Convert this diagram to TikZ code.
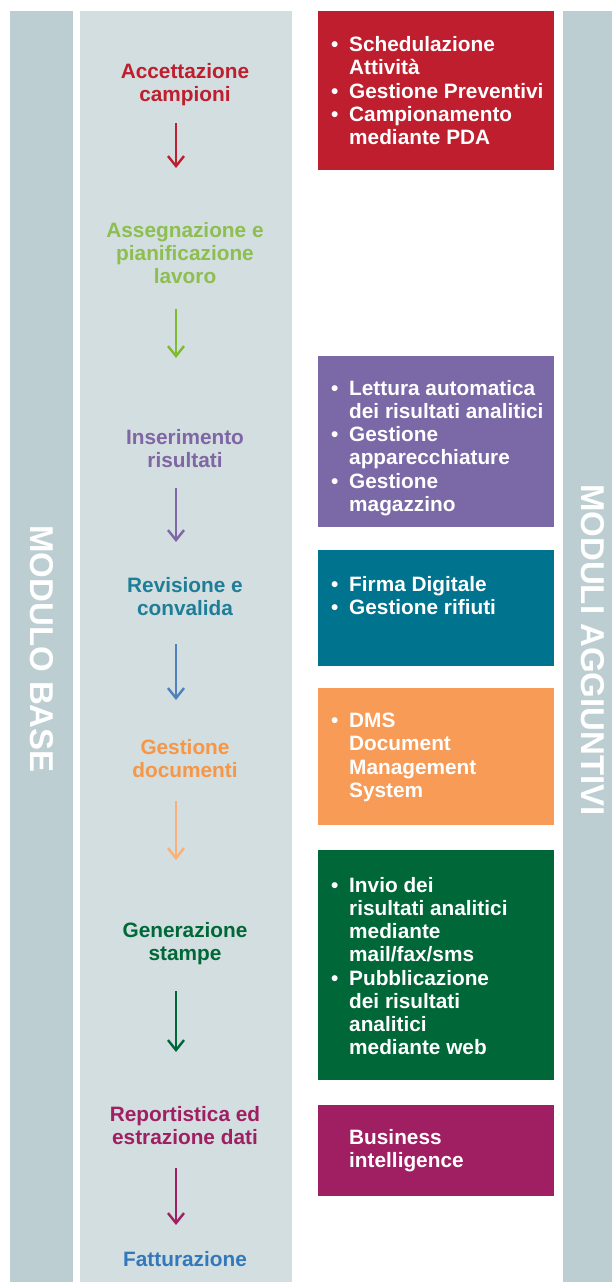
\documentclass[tikz,border=0pt]{standalone}
\usepackage{fontspec}
\setmainfont{Liberation Sans}
\usetikzlibrary{arrows.meta,positioning,calc}

\definecolor{stripcol}{RGB}{188,206,210}
\definecolor{colcol}{RGB}{210,222,224}
\definecolor{cRed}{RGB}{190,30,45}
\definecolor{cLGreen}{RGB}{141,190,79}
\definecolor{cLGreenArr}{RGB}{128,186,46}
\definecolor{cPurple}{RGB}{128,102,164}
\definecolor{cPurpleBox}{RGB}{123,104,166}
\definecolor{cTeal}{RGB}{30,126,152}
\definecolor{cTealBox}{RGB}{0,115,142}
\definecolor{cBlueArr}{RGB}{79,129,189}
\definecolor{cOrange}{RGB}{247,150,70}
\definecolor{cOrangeBox}{RGB}{247,155,87}
\definecolor{cOrangeArr}{RGB}{250,176,118}
\definecolor{cDGreen}{RGB}{0,104,56}
\definecolor{cMagenta}{RGB}{160,31,98}
\definecolor{cBlue}{RGB}{52,120,188}

\newcommand{\blt}{\makebox[18pt][l]{\textbullet}}
\newcommand{\ind}{\hspace*{18pt}}

\tikzset{
  steplabel/.style={font=\fontsize{20.8}{23.2}\selectfont\bfseries, align=center,
    anchor=north, inner sep=0pt, text depth=0pt},
  modbox/.style={anchor=north west, inner sep=0pt, minimum width=236pt, draw=none},
  modtext/.style={font=\fontsize{20.8}{23.2}\selectfont\bfseries, align=left,
    anchor=north west, inner sep=0pt, text=white},
  flow/.style={line width=2.4pt, -{Straight Barb[length=10pt,width=16pt,line width=2.4pt]}},
  sidetitle/.style={font=\fontsize{33}{36}\selectfont\bfseries, text=white, rotate=-90, inner sep=0pt},
}

\begin{document}
\begin{tikzpicture}[x=1pt,y=-1pt]
  \useasboundingbox (0,0) rectangle (612,1282);

  % background strips
  \fill[stripcol] (10,11) rectangle (73,1282);
  \fill[colcol] (80,11) rectangle (292,1282);
  \fill[stripcol] (563,11) rectangle (612,1282);

  \node[sidetitle] (base) at (42,649) {MODULO BASE};
  \node[sidetitle] (aggiuntivi) at (593,650) {MODULI AGGIUNTIVI};

  % modulo base: steps
  \node[steplabel, text=cRed] (acc) at (185,63) {Accettazione\\campioni};
  \node[steplabel, text=cLGreen] (ass) at (185,222) {Assegnazione e\\pianificazione\\lavoro};
  \node[steplabel, text=cPurple] (ins) at (185,429) {Inserimento\\risultati};
  \node[steplabel, text=cTeal] (rev) at (185,577) {Revisione e\\convalida};
  \node[steplabel, text=cOrange] (ges) at (185,739) {Gestione\\documenti};
  \node[steplabel, text=cDGreen] (gen) at (185,922) {Generazione\\stampe};
  \node[steplabel, text=cMagenta] (rep) at (185,1106) {Reportistica ed\\estrazione dati};
  \node[steplabel, text=cBlue] (fat) at (185,1251) {Fatturazione};

  \draw[flow, cRed, shorten <=21.5pt, shorten >=54pt] ([xshift=-9pt]acc.south) -- ([xshift=-9pt]ass.north);
  \draw[flow, cLGreenArr, shorten <=25.5pt, shorten >=71pt] ([xshift=-9pt]ass.south) -- ([xshift=-9pt]ins.north);
  \draw[flow, cPurple, shorten <=20.5pt, shorten >=35pt] ([xshift=-9pt]ins.south) -- ([xshift=-9pt]rev.north);
  \draw[flow, cBlueArr, shorten <=28.5pt, shorten >=39pt] ([xshift=-9pt]rev.south) -- ([xshift=-9pt]ges.north);
  \draw[flow, cOrangeArr, shorten <=23.5pt, shorten >=62pt] ([xshift=-9pt]ges.south) -- ([xshift=-9pt]gen.north);
  \draw[flow, cDGreen, shorten <=30.5pt, shorten >=54pt] ([xshift=-9pt]gen.south) -- ([xshift=-9pt]rep.north);
  \draw[flow, cMagenta, shorten <=23.5pt, shorten >=26pt] ([xshift=-9pt]rep.south) -- ([xshift=-9pt]fat.north);

  % moduli aggiuntivi
  \node[modbox, fill=cRed, minimum height=159pt] (mAcc) at (318,11) {};
  \node[modbox, fill=cPurpleBox, minimum height=171pt] (mIns) at (318,356) {};
  \node[modbox, fill=cTealBox, minimum height=116pt] (mRev) at (318,550) {};
  \node[modbox, fill=cOrangeBox, minimum height=137pt] (mGes) at (318,688) {};
  \node[modbox, fill=cDGreen, minimum height=230pt] (mGen) at (318,850) {};
  \node[modbox, fill=cMagenta, minimum height=91pt] (mRep) at (318,1105) {};

  \node[modtext] (tAcc) at ([xshift=13pt,yshift=-25.5pt]mAcc.north west)
    {\blt Schedulazione\\\ind Attività\\\blt Gestione Preventivi\\\blt Campionamento\\\ind mediante PDA};
  \node[modtext] (tIns) at ([xshift=13pt,yshift=-24pt]mIns.north west)
    {\blt Lettura automatica\\\ind dei risultati analitici\\\blt Gestione\\\ind apparecchiature\\\blt Gestione\\\ind magazzino};
  \node[modtext] (tRev) at ([xshift=13pt,yshift=-26pt]mRev.north west)
    {\blt Firma Digitale\\\blt Gestione rifiuti};
  \node[modtext] (tGes) at ([xshift=13pt,yshift=-25pt]mGes.north west)
    {\blt DMS\\\ind Document\\\ind Management\\\ind System};
  \node[modtext] (tGen) at ([xshift=13pt,yshift=-27pt]mGen.north west)
    {\blt Invio dei\\\ind risultati analitici\\\ind mediante\\\ind mail/fax/sms\\\blt Pubblicazione\\\ind dei risultati\\\ind analitici\\\ind mediante web};
  \node[modtext] (tRep) at ([xshift=13pt,yshift=-24pt]mRep.north west)
    {\ind Business\\\ind intelligence};
\end{tikzpicture}
\end{document}
